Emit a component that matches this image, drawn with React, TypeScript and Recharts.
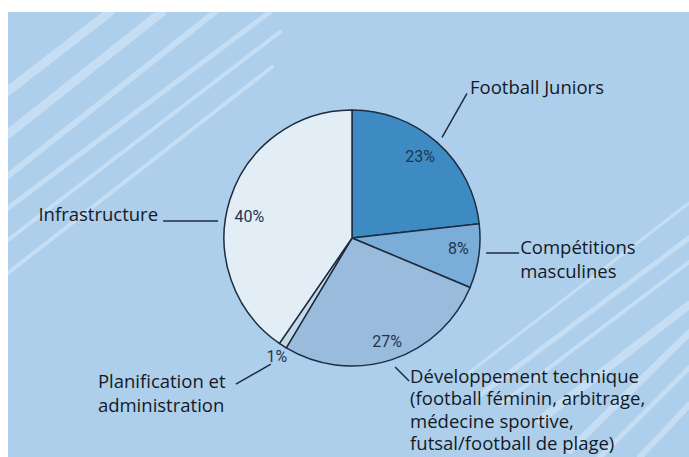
import { PieChart, Pie, Cell } from "recharts";

// shares of the budget (percent), clockwise from 12 o'clock
const CATEGORIES = [
  "Football Juniors",
  "Compétitions masculines",
  "Développement technique",
  "Planification et administration",
  "Infrastructure",
];
const SHARES = [23, 8, 27, 1, 40];
const LABEL_LINES = [
  ["Football Juniors"],
  ["Compétitions", "masculines"],
  [
    "Développement technique",
    "(football féminin, arbitrage,",
    "médecine sportive,",
    "futsal/football de plage)",
  ],
  ["Planification et", "administration"],
  ["Infrastructure"],
];
const COLORS = ["#3e8bc4", "#7aadd7", "#99bcdc", "#c6d9e8", "#e2edf6"];

const data = CATEGORIES.map((name, i) => ({ name, value: SHARES[i] }));

// label placement relative to each slice (angle offsets in degrees)
const LAYOUT = [
  { pa: 1.8, pr: 106, la: 0, lr: 135, dx: 25, dy: -44, tx: 3, ty: 1, anchor: "start", lh: 22 },
  { pa: 2.3, pr: 107, la: 1.8, lr: 135, dx: 33, dy: 0, tx: 1, ty: 1, anchor: "start", lh: 23.5 },
  { pa: 0.6, pr: 109, la: 0.3, lr: 136, dx: 14, dy: 14, tx: 1, ty: 2, anchor: "start", lh: 22.5 },
  { pa: 0.3, pr: 140, la: 0, lr: 150, dx: -35, dy: 20, tx: -138, ty: 4, anchor: "start", lh: 24 },
  { pa: 5.2, pr: 105, la: 10, lr: 135, dx: -55, dy: 0, tx: -5, ty: 0, anchor: "end", lh: 22 },
];

// decorative background stripes
const STRIPES = [
  [8, 91, 110, 12, 9],
  [8, 134, 162, 12, 9],
  [8, 176, 215, 12, 6],
  [8, 208, 270, 12, 5],
  [8, 240, 280, 32, 4],
  [8, 273, 272, 67, 4],
  [470, 372, 689, 203, 3],
  [480, 395, 689, 238, 5],
  [500, 405, 689, 262, 4],
  [540, 420, 689, 305, 8],
  [570, 450, 689, 333, 7],
  [600, 457, 689, 368, 5],
  [640, 457, 689, 405, 6],
];

const INK = "#1d2c40";
const RAD = Math.PI / 180;

function renderLabel(props: any) {
  const { cx, cy, midAngle, index } = props;
  const L = LAYOUT[index];
  const pAng = (midAngle + L.pa) * RAD;
  const px = cx + L.pr * Math.cos(pAng);
  const py = cy - L.pr * Math.sin(pAng);
  const lAng = (midAngle + L.la) * RAD;
  const sx = cx + L.lr * Math.cos(lAng);
  const sy = cy - L.lr * Math.sin(lAng);
  const ex = sx + L.dx;
  const ey = sy + L.dy;
  return (
    <g key={`lbl-${index}`}>
      <text
        x={px}
        y={py + 5.5}
        textAnchor="middle"
        fontFamily="Roboto"
        fontSize={16}
        fill="#1f3450"
      >
        {SHARES[index]}%
      </text>
      <line x1={sx} y1={sy} x2={ex} y2={ey} stroke={INK} strokeWidth={1.5} />
      <text
        x={ex + L.tx}
        y={ey + L.ty}
        textAnchor={L.anchor}
        fontFamily="Open Sans"
        fontSize={18.5}
        fill="#141a25"
      >
        {LABEL_LINES[index].map((t, j) => (
          <tspan key={j} x={ex + L.tx} dy={j === 0 ? 0 : L.lh}>
            {t}
          </tspan>
        ))}
      </text>
    </g>
  );
}

export default function App() {
  return (
    <div
      style={{
        position: "absolute",
        left: 0,
        top: 0,
        width: 689,
        height: 457,
        background: "#ffffff",
        overflow: "hidden",
      }}
    >
      <svg width={689} height={457} style={{ position: "absolute", left: 0, top: 0 }}>
        <defs>
          <clipPath id="panel">
            <rect x={8} y={12} width={681} height={445} />
          </clipPath>
        </defs>
        <rect x={8} y={12} width={681} height={445} fill="#aecfeb" />
        <g clipPath="url(#panel)">
          {STRIPES.map(([x1, y1, x2, y2, w], i) => (
            <line
              key={i}
              x1={x1}
              y1={y1}
              x2={x2}
              y2={y2}
              stroke="#c6def3"
              strokeWidth={w}
              strokeLinecap="round"
            />
          ))}
        </g>
      </svg>
      <div style={{ position: "absolute", left: 0, top: 0 }}>
        <PieChart width={689} height={457} margin={{ top: 0, right: 0, bottom: 0, left: 0 }}>
          <Pie
            data={data}
            dataKey="value"
            nameKey="name"
            cx={352}
            cy={238}
            outerRadius={128}
            startAngle={90}
            endAngle={-270}
            stroke={INK}
            strokeWidth={1.5}
            labelLine={false}
            label={renderLabel}
            isAnimationActive={false}
          >
            {data.map((d, i) => (
              <Cell key={d.name} fill={COLORS[i]} />
            ))}
          </Pie>
        </PieChart>
      </div>
    </div>
  );
}
